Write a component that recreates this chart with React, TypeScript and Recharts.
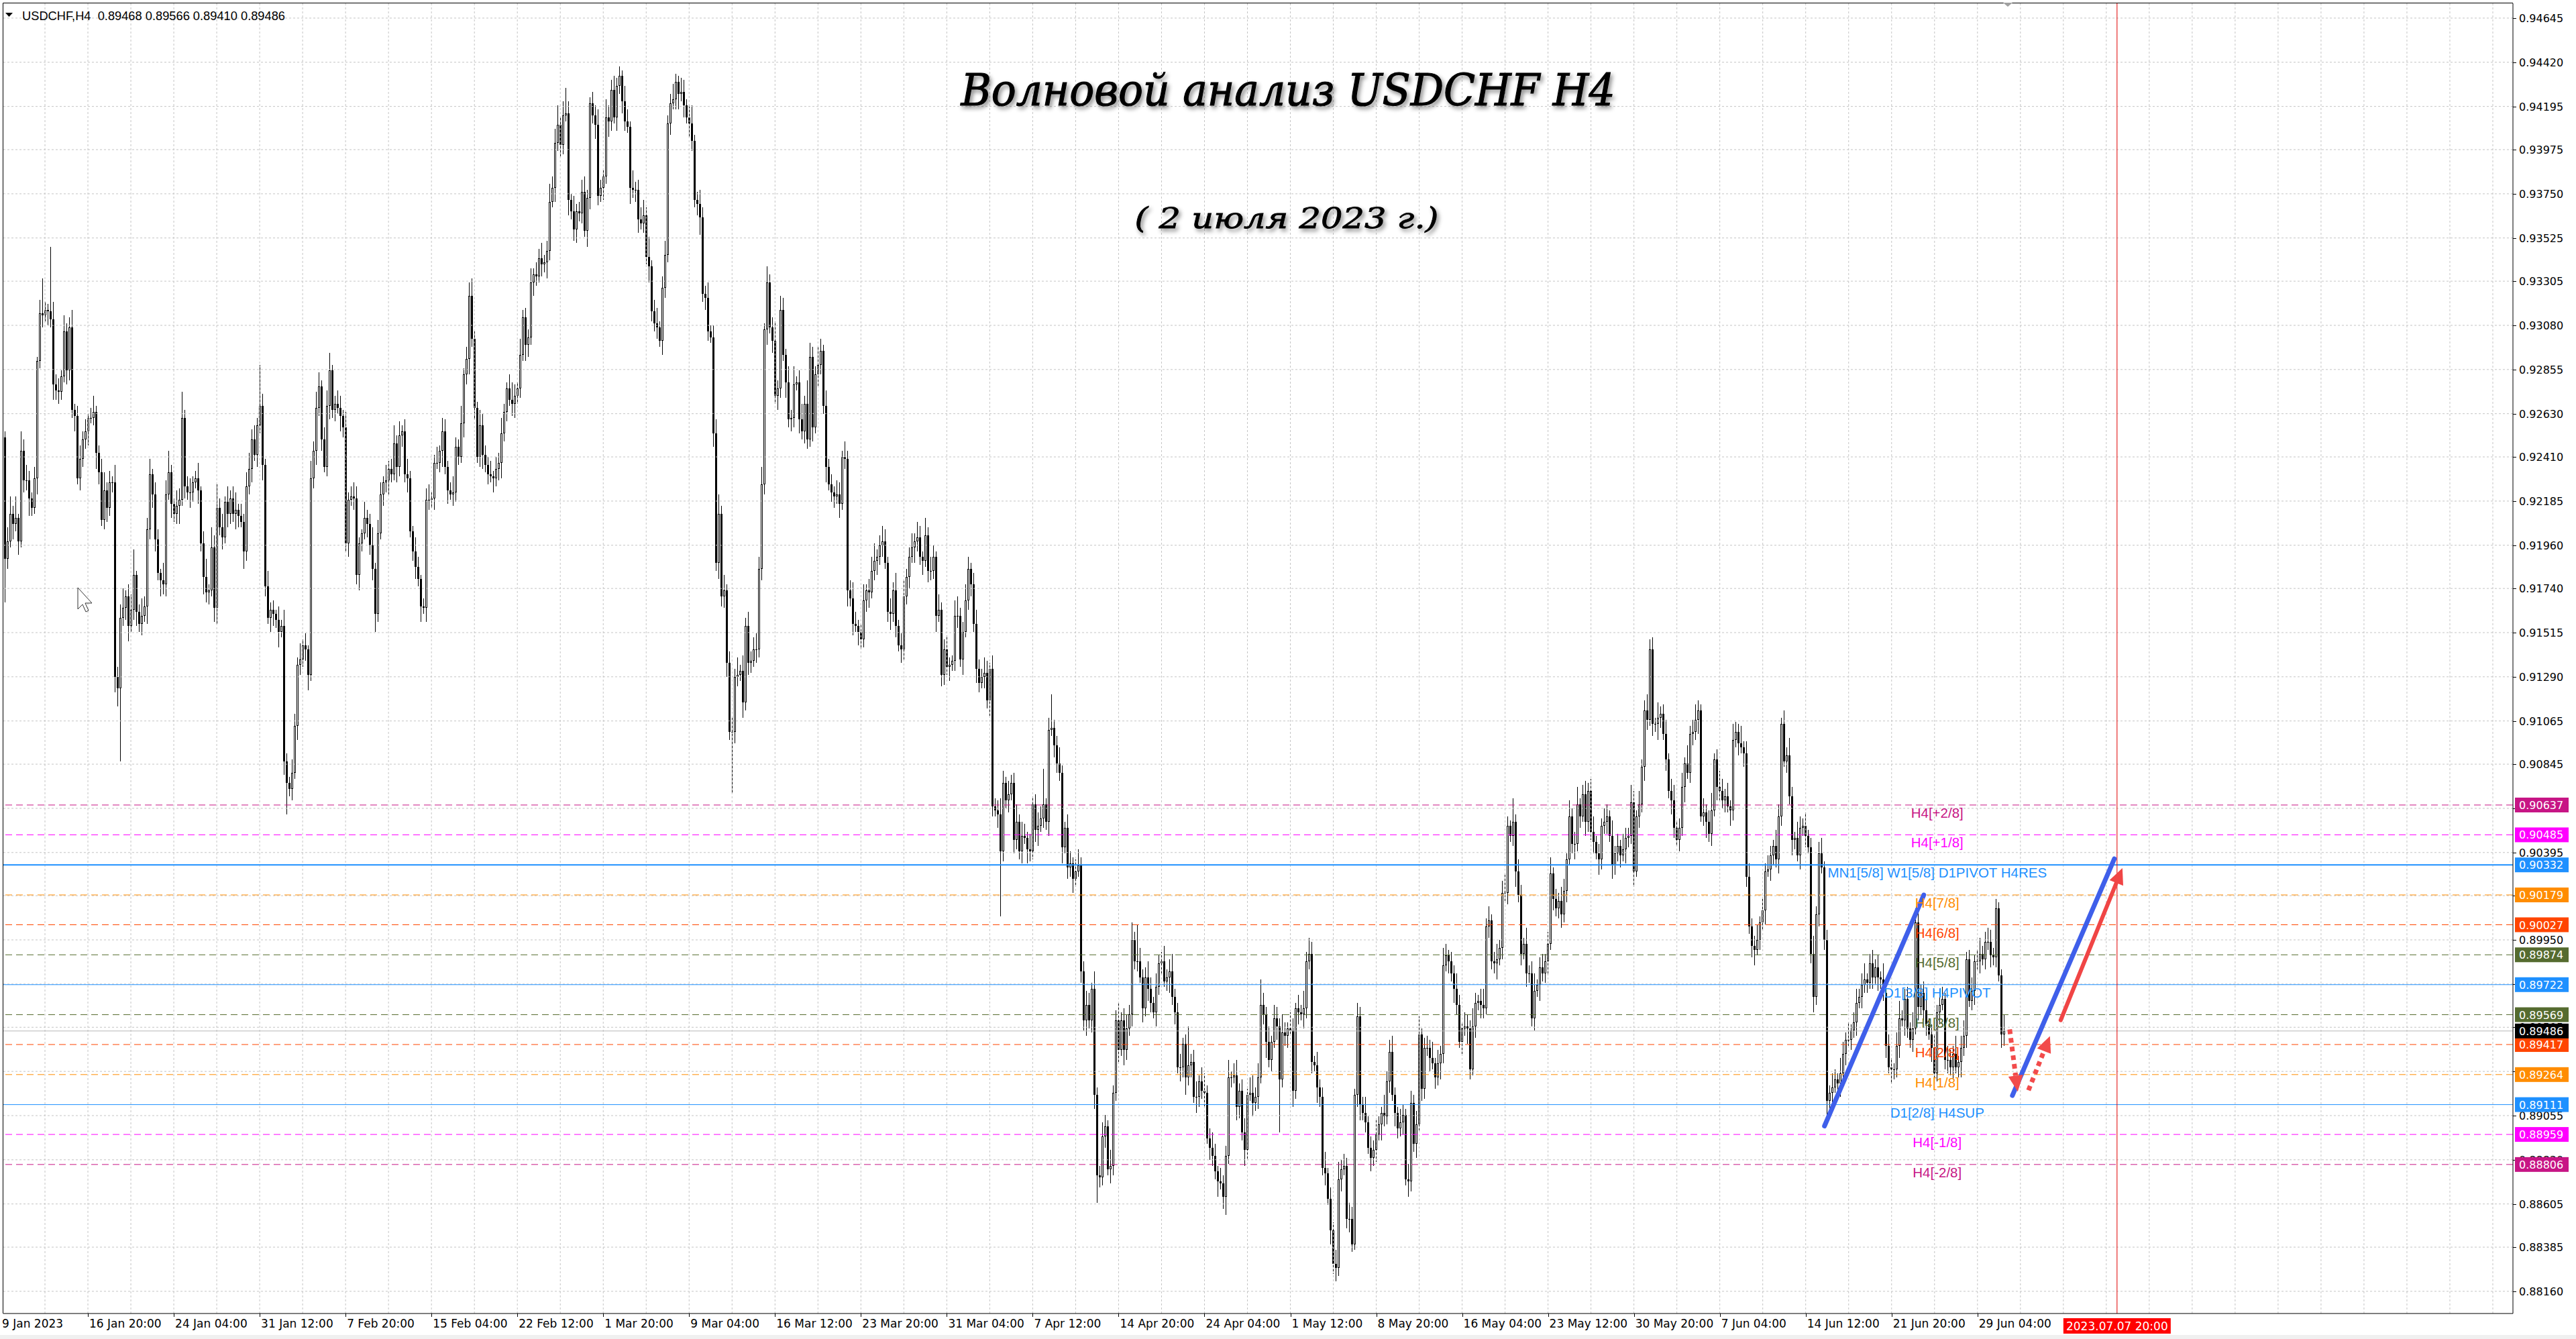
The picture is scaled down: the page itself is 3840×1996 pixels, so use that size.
import React from 'react';
import { ComposedChart, Bar, XAxis, YAxis, ReferenceLine, ReferenceDot } from 'recharts';

const W = 3840;
const H = 1996;

// USDCHF H4, prices in pips (0.0001). Open of each bar = previous close.
const firstOpen = 9251;
const closePips = [
  9189,9198,9212,9207,9210,9198,9244,9229,9229,9220,9215,9230,9290,9314,9313,9316,9315,9311,9278,9275,
  9274,9282,9305,9285,9307,9265,9262,9230,9240,9250,9254,9261,9261,9264,9243,9233,9209,9224,9215,9228,
  9228,9129,9123,9159,9164,9170,9155,9163,9181,9162,9156,9160,9165,9204,9232,9222,9199,9182,9178,9176,
  9222,9233,9217,9212,9216,9219,9261,9226,9223,9223,9228,9230,9224,9197,9180,9172,9173,9195,9164,9215,
  9205,9200,9218,9212,9220,9212,9214,9211,9208,9193,9226,9235,9250,9242,9257,9267,9237,9175,9159,9163,
  9161,9158,9152,9155,9086,9075,9072,9080,9104,9135,9138,9145,9143,9130,9230,9244,9266,9277,9250,9236,
  9267,9285,9265,9268,9266,9262,9256,9197,9219,9221,9220,9181,9197,9202,9210,9207,9196,9184,9161,9202,
  9222,9228,9229,9235,9232,9248,9236,9252,9254,9232,9230,9203,9193,9185,9179,9165,9164,9219,9219,9220,
  9238,9238,9244,9254,9236,9224,9222,9223,9246,9241,9258,9283,9291,9323,9301,9266,9241,9257,9242,9237,
  9232,9231,9230,9235,9238,9253,9264,9276,9270,9268,9272,9276,9293,9312,9298,9302,9330,9334,9333,9342,
  9339,9340,9346,9371,9378,9401,9410,9400,9415,9416,9372,9366,9357,9366,9365,9376,9356,9373,9421,9415,
  9410,9374,9378,9384,9414,9412,9428,9414,9430,9435,9422,9412,9409,9378,9377,9377,9362,9360,9364,9343,
  9338,9315,9309,9307,9300,9327,9344,9411,9421,9423,9432,9426,9427,9420,9414,9411,9402,9372,9370,9363,
  9324,9322,9305,9302,9253,9187,9212,9170,9173,9136,9101,9101,9129,9130,9132,9116,9155,9136,9137,9143,
  9143,9184,9227,9306,9330,9307,9300,9272,9276,9316,9293,9279,9260,9261,9278,9279,9260,9254,9268,9250,
  9292,9256,9283,9288,9295,9267,9236,9227,9223,9221,9222,9217,9241,9240,9173,9169,9156,9155,9152,9148,
  9168,9173,9172,9183,9188,9190,9196,9198,9187,9162,9161,9173,9155,9145,9143,9170,9180,9190,9195,9198,
  9200,9190,9188,9201,9183,9183,9190,9160,9163,9130,9143,9134,9135,9137,9160,9160,9138,9152,9168,9184,
  9176,9156,9133,9126,9129,9131,9117,9133,9063,9061,9059,9040,9075,9066,9069,9075,9046,9055,9040,9048,
  9047,9041,9040,9064,9051,9053,9057,9064,9055,9102,9103,9094,9085,9080,9042,9052,9032,9034,9026,9030,
  9033,8979,8954,8962,8954,8970,8916,8875,8874,8895,8900,8878,8880,8917,8954,8939,8954,8939,8950,8957,
  8995,8984,8984,8976,8960,8976,8970,8963,8958,8971,8983,8984,8974,8976,8979,8966,8958,8930,8930,8942,
  8925,8931,8933,8915,8915,8923,8918,8917,8894,8889,8885,8877,8872,8871,8864,8885,8925,8925,8926,8910,
  8918,8897,8888,8916,8917,8912,8915,8925,8962,8957,8943,8934,8943,8955,8951,8924,8948,8946,8950,8949,
  8918,8960,8958,8957,8960,8984,8988,8933,8931,8920,8915,8879,8876,8863,8847,8830,8828,8873,8878,8880,
  8853,8853,8840,8916,8956,8911,8907,8902,8889,8884,8888,8896,8901,8907,8905,8923,8938,8916,8907,8899,
  8902,8906,8873,8872,8912,8891,8901,8947,8919,8940,8940,8935,8932,8925,8932,8937,8982,8987,8984,8978,
  8970,8962,8943,8950,8951,8950,8929,8951,8963,8964,8962,8960,9002,9005,8984,8983,8985,8991,9019,9019,
  9053,9048,9055,9030,9018,8988,8993,8978,8978,8955,8969,8972,8981,8978,8984,8993,9029,9016,9011,9015,
  9008,9020,9036,9058,9044,9044,9064,9058,9069,9055,9071,9050,9045,9039,9036,9053,9055,9058,9048,9033,
  9039,9043,9038,9041,9047,9048,9065,9030,9058,9064,9083,9112,9107,9143,9105,9105,9108,9110,9100,9087,
  9071,9066,9052,9046,9052,9073,9085,9080,9100,9101,9107,9112,9058,9060,9055,9049,9061,9087,9073,9071,
  9066,9068,9063,9061,9097,9101,9095,9093,9090,9027,9002,8992,8990,8995,9004,9010,9030,9031,9038,9043,
  9036,9058,9105,9086,9089,9068,9046,9047,9038,9052,9053,9048,9042,8988,8966,9008,9039,9032,8995,8913,
  8917,8920,8924,8922,8927,8937,8944,8944,8949,8953,8963,8966,8972,8975,8973,8983,8976,8981,8976,8975,
  8968,8941,8930,8929,8929,8941,8955,8954,8965,8950,8944,8950,9004,8961,8968,8959,8952,8947,8940,8927,
  8958,8962,8965,8934,8934,8930,8937,8930,8933,8940,8946,8985,8964,8969,8984,8984,8988,8985,8994,8994,
  8987,8986,9011,8977,8947,8948.6,
];
const wickUp = [
  3,7,9,4,11,2,10,6,8,5,3,6,2,7,18,4,3,33,9,5,
  6,3,8,4,5,9,3,5,7,4,6,2,5,8,3,4,7,9,4,6,
  3,9,5,7,10,3,6,8,13,2,4,9,5,6,8,3,6,5,2,9,
  7,11,4,3,8,6,13,4,5,7,3,4,8,2,6,9,3,10,6,12,
  5,7,3,8,4,6,9,3,6,4,7,8,5,7,4,21,6,3,8,4,
  5,2,7,3,8,4,3,7,6,4,8,3,6,2,9,5,8,7,3,6,
  8,9,3,4,7,6,3,8,4,5,7,6,3,2,8,4,5,9,3,7,
  6,3,8,4,5,9,4,7,3,6,8,4,3,7,5,2,4,6,8,3,
  4,8,3,7,6,3,4,8,5,4,9,3,6,7,9,4,3,8,6,5,
  4,7,3,6,5,8,4,3,7,9,6,3,8,4,5,4,7,3,6,5,
  8,4,5,9,6,7,10,4,7,13,6,3,8,4,5,6,8,4,3,6,
  5,8,4,3,9,6,5,7,4,5,3,8,6,3,9,4,5,6,8,4,
  10,3,6,8,3,6,7,4,5,8,4,3,7,6,3,6,9,3,4,7,
  5,4,8,3,6,7,10,4,8,3,6,7,4,9,3,8,4,7,5,6,
  8,6,9,3,8,4,5,10,4,7,6,3,8,4,9,3,6,8,4,12,
  7,5,4,9,6,3,8,4,5,3,7,6,3,8,4,5,8,6,3,4,
  8,3,6,7,9,4,5,8,6,3,7,4,9,3,6,8,4,5,7,4,
  8,6,3,9,4,7,6,3,8,4,5,7,4,3,8,10,4,5,8,6,
  3,6,7,5,4,8,6,3,7,4,5,8,6,3,7,4,5,9,4,7,
  6,3,8,4,5,7,6,18,3,6,17,4,5,8,4,3,7,6,3,6,
  8,4,5,7,6,3,9,4,5,7,6,3,8,4,5,9,4,6,7,5,
  9,4,19,7,4,5,8,6,3,7,4,5,8,4,6,9,4,5,7,3,
  5,20,4,6,8,3,7,9,4,5,8,6,3,7,4,5,9,3,6,8,
  4,6,7,3,8,9,5,7,13,6,4,8,3,7,6,4,9,5,3,8,
  6,3,7,4,9,5,8,6,3,7,4,5,8,3,6,4,7,9,5,6,
  4,8,6,3,7,5,4,8,3,6,5,7,4,3,9,5,6,8,4,3,
  7,5,3,8,6,4,7,9,3,5,6,4,8,3,7,4,9,6,3,5,
  4,8,5,3,7,6,4,9,5,3,6,8,4,7,3,5,8,4,6,9,
  5,3,12,4,6,5,3,8,4,6,9,3,5,7,4,6,8,3,5,4,
  7,6,3,8,4,6,9,3,5,7,4,6,8,3,5,4,7,6,3,8,
  4,6,3,8,5,4,9,6,3,7,4,5,8,5,6,3,8,4,5,7,
  3,6,8,4,5,7,3,9,4,6,8,5,3,7,4,6,9,3,5,8,
  6,4,7,3,8,5,4,9,3,6,7,4,5,8,3,6,4,7,5,3,
  8,6,3,7,4,9,5,3,8,6,4,7,3,5,9,4,6,8,3,5,
  4,7,5,3,8,6,4,9,3,5,7,4,6,8,3,5,7,4,6,3,
  8,4,6,5,3,7,9,4,5,6,3,8,7,5,4,6,9,3,5,7,
  4,8,6,3,7,5,4,9,3,6,8,4,5,7,3,6,8,4,5,7,
  6,4,5,3,3,8,
];
const wickDown = [
  22,5,3,8,4,7,3,6,5,9,4,3,8,4,6,3,7,4,8,5,
  6,4,3,7,5,4,8,3,6,4,5,7,3,4,8,6,3,5,7,4,
  5,8,9,37,4,6,8,3,5,7,4,6,3,9,5,7,6,4,8,5,
  6,3,7,4,5,9,3,6,4,8,5,3,7,4,9,5,6,3,7,8,
  4,6,3,7,5,4,8,6,3,9,5,4,7,3,6,4,8,5,3,7,
  6,4,8,3,7,16,4,6,3,7,5,4,6,8,3,5,7,4,6,3,
  5,7,4,6,3,8,5,4,7,3,6,5,8,4,3,7,5,6,9,4,
  3,6,5,7,4,3,8,5,6,4,7,3,5,6,4,8,3,7,5,4,
  6,3,5,8,4,7,3,6,5,4,3,7,5,8,4,6,3,5,7,4,
  5,3,7,4,6,8,4,5,3,6,7,4,5,3,8,6,4,7,5,3,
  6,4,8,5,3,7,4,6,5,3,8,4,6,7,4,5,3,8,6,4,
  7,5,3,6,4,8,5,3,7,4,6,5,3,8,4,6,7,3,5,4,
  8,5,4,6,3,7,5,4,6,3,5,8,4,6,3,7,5,4,6,9,
  4,6,5,3,7,4,8,5,6,7,4,31,6,5,3,8,4,6,5,3,
  7,4,6,5,8,3,6,4,7,5,3,8,4,6,5,3,7,4,6,5,
  4,7,3,6,5,4,8,3,5,6,4,7,3,5,8,4,6,3,7,5,
  4,6,8,3,5,7,4,6,3,5,8,4,6,3,7,5,4,6,3,8,
  5,4,7,3,6,5,4,8,3,6,5,4,7,3,5,6,4,8,3,5,
  6,4,7,5,3,6,4,8,5,3,7,33,5,4,6,3,7,5,4,6,
  3,7,5,4,6,8,3,5,4,7,3,6,5,4,8,3,6,5,7,4,
  3,6,5,8,4,6,7,14,5,4,6,3,7,5,4,6,3,8,5,4,
  6,4,5,3,7,4,6,5,3,7,4,6,3,5,8,4,6,3,7,5,
  9,4,6,3,8,5,4,7,3,6,5,4,8,3,6,9,4,5,3,7,
  6,4,8,5,3,7,4,6,3,5,8,4,6,3,7,27,4,5,6,3,
  8,4,6,3,7,5,4,6,3,8,5,4,6,3,7,5,7,4,6,3,
  5,7,4,3,6,8,4,5,3,7,4,6,3,8,5,4,6,3,7,5,
  4,6,3,8,5,4,7,3,6,5,4,7,3,6,4,8,5,3,6,4,
  7,5,3,6,4,8,5,3,6,4,7,5,3,6,4,5,8,3,6,4,
  6,3,5,8,4,6,3,7,5,4,6,3,8,4,5,7,3,6,4,5,
  7,4,6,3,5,8,4,6,3,7,5,4,6,3,8,5,4,6,3,7,
  5,4,6,3,7,5,4,8,3,6,4,7,5,3,6,4,8,5,3,6,
  4,7,5,3,6,4,8,3,5,6,4,7,3,5,8,4,6,3,7,5,
  4,6,3,8,5,4,6,3,7,5,4,6,8,3,5,4,7,3,6,5,
  4,7,5,3,6,4,8,5,3,7,4,6,3,5,8,4,6,3,5,10,
  4,6,3,5,7,4,6,3,5,4,7,3,6,4,5,3,6,4,7,5,
  4,6,3,7,5,4,6,3,8,5,4,6,3,7,4,5,6,3,7,5,
  4,6,3,5,7,4,6,3,5,8,4,6,3,5,7,4,6,3,5,4,
  6,4,5,3,7,6,
];

const totalSlots = 935; // bars plus the empty shift area on the right
const timeLabels = [
  '9 Jan 2023', '16 Jan 20:00', '24 Jan 04:00', '31 Jan 12:00', '7 Feb 20:00', '15 Feb 04:00',
  '22 Feb 12:00', '1 Mar 20:00', '9 Mar 04:00', '16 Mar 12:00', '23 Mar 20:00', '31 Mar 04:00',
  '7 Apr 12:00', '14 Apr 20:00', '24 Apr 04:00', '1 May 12:00', '8 May 20:00', '16 May 04:00',
  '23 May 12:00', '30 May 20:00', '7 Jun 04:00', '14 Jun 12:00', '21 Jun 20:00', '29 Jun 04:00',
];
const timeLabelBars = [0, 31, 63, 95, 127, 159, 191, 223, 255, 287, 319, 351, 383, 415, 447, 479, 511, 543, 575, 607, 639, 671, 703, 735];
const futureBar = 787;
const futureLabel = '2023.07.07 20:00';

const priceTicks = [
  0.94645, 0.9442, 0.94195, 0.93975, 0.9375, 0.93525, 0.93305, 0.9308, 0.92855, 0.9263,
  0.9241, 0.92185, 0.9196, 0.9174, 0.91515, 0.9129, 0.91065, 0.90845, 0.9062, 0.90395,
  0.90175, 0.8995, 0.89725, 0.89505, 0.8928, 0.89055, 0.8883, 0.88605, 0.88385, 0.8816,
];
const levelPrices = [0.90637, 0.90485, 0.90332, 0.90179, 0.90027, 0.89874, 0.89722, 0.89569, 0.89417, 0.89264, 0.89111, 0.88959, 0.88806];
const levelNames = ['H4[+2/8]', 'H4[+1/8]', 'MN1[5/8] W1[5/8] D1PIVOT H4RES', 'H4[7/8]', 'H4[6/8]', 'H4[5/8]', 'D1[3/8] H4PIVOT', 'H4[3/8]', 'H4[2/8]', 'H4[1/8]', 'D1[2/8] H4SUP', 'H4[-1/8]', 'H4[-2/8]'];
const levelColors = ['#C71585', '#FF00FF', '#1E90FF', '#FF8C00', '#FF4500', '#556B2F', '#1E90FF', '#556B2F', '#FF4500', '#FF8C00', '#1E90FF', '#FF00FF', '#C71585'];
const levelSolid = [false, false, true, false, false, false, true, false, false, false, true, false, false];
const levelLabelBar = 720;
const lastPrice = 0.89486;

// drawn analysis: [barFrom, priceFrom, barTo, priceTo]
const blueLines = [
  [678, 0.89002, 715, 0.90179],
  [748, 0.89157, 786, 0.90363],
];
const redArrow = [766, 0.89541, 789, 0.90316];
const redDotted = [
  [747, 0.89494, 750, 0.89177],
  [754, 0.89184, 762, 0.8946],
];

const gridBars = Array.from({ length: 58 }, (_, k) => 15 + 16 * k);

const data = Array.from({ length: totalSlots }, (_, i) => {
  if (i >= closePips.length) return { i, range: null };
  const o = (i === 0 ? firstOpen : closePips[i - 1]) / 10000;
  const c = closePips[i] / 10000;
  const h = Math.max(o, c) + wickUp[i] / 10000;
  const l = Math.min(o, c) - wickDown[i] / 10000;
  return { i, o, c, h, l, range: [l, h] };
});

const AXIS_FONT = '"DejaVu Sans", Verdana, sans-serif';
const LABEL_FONT = '"Liberation Sans", Arial, sans-serif';

function Candle(props: any) {
  const { x, y, width, height, payload } = props;
  if (!payload || payload.range == null || height == null) return null;
  const { o, c, h, l } = payload;
  const span = h - l || 1e-9;
  const py = (v: number) => y + ((h - v) / span) * height;
  const cx = Math.floor(x + width / 2);
  const top = Math.round(py(Math.max(o, c)));
  const bot = Math.round(py(Math.min(o, c)));
  const bull = c >= o;
  let body;
  if (bot - top < 2) body = <rect x={cx - 1} y={top} width={3} height={1} fill="#000" />;
  else if (bull) body = <rect x={cx - 0.5} y={top + 0.5} width={2} height={bot - top - 1} fill="#fff" stroke="#000" strokeWidth={1} />;
  else body = <rect x={cx - 1} y={top} width={3} height={bot - top} fill="#000" />;
  return (
    <g shapeRendering="crispEdges">
      <line x1={cx + 0.5} x2={cx + 0.5} y1={Math.round(y)} y2={Math.round(y + height)} stroke="#000" strokeWidth={1} />
      {body}
    </g>
  );
}

function PriceTick(props: any) {
  const { x, y, payload } = props;
  const v = payload.value;
  const li = levelPrices.indexOf(v);
  if (li >= 0 || v === lastPrice) {
    const fill = li >= 0 ? levelColors[li] : '#000';
    return (
      <g>
        <rect x={x + 3} y={y - 11} width={80} height={22} fill={fill} />
        <text x={x + 9} y={y + 6} fontFamily={AXIS_FONT} fontSize={16} fill="#fff">{v.toFixed(5)}</text>
      </g>
    );
  }
  return (
    <g>
      <line x1={x} x2={x + 5} y1={y + 0.5} y2={y + 0.5} stroke="#000" shapeRendering="crispEdges" />
      <text x={x + 9} y={y + 6} fontFamily={AXIS_FONT} fontSize={16} fill="#000">{v.toFixed(5)}</text>
    </g>
  );
}

function TimeTick(props: any) {
  const { x, y, payload } = props;
  const bar = payload.value;
  if (bar === futureBar) {
    return (
      <g>
        <rect x={x - 80} y={y + 7} width={160} height={23} fill="#FF0000" />
        <text x={x} y={y + 25} textAnchor="middle" fontFamily={AXIS_FONT} fontSize={17} fill="#fff">{futureLabel}</text>
      </g>
    );
  }
  const k = timeLabelBars.indexOf(bar);
  return (
    <g>
      {k > 0 && <line x1={x + 0.5} x2={x + 0.5} y1={y} y2={y + 5} stroke="#000" shapeRendering="crispEdges" />}
      <text x={k === 0 ? x - 4 : x + 2} y={y + 21} fontFamily={AXIS_FONT} fontSize={17} fill="#000">{timeLabels[k]}</text>
    </g>
  );
}

function arrowShape(color: string, dashed: boolean, withHead: boolean, width: number) {
  return (p: any) => {
    const { x1, y1, x2, y2 } = p;
    if ([x1, y1, x2, y2].some((n) => n == null || isNaN(n))) return null;
    const dx = x2 - x1;
    const dy = y2 - y1;
    const len = Math.sqrt(dx * dx + dy * dy) || 1;
    const ux = dx / len;
    const uy = dy / len;
    const headLen = withHead ? 24 : 0;
    const bx = x2 - ux * headLen;
    const by = y2 - uy * headLen;
    return (
      <g>
        <line x1={x1} y1={y1} x2={bx} y2={by} stroke={color} strokeWidth={width}
          strokeLinecap={dashed ? 'butt' : 'round'} strokeDasharray={dashed ? '7 6' : undefined} />
        {withHead && (
          <polygon
            points={`${x2},${y2} ${bx - uy * 11},${by + ux * 11} ${bx + uy * 11},${by - ux * 11}`}
            fill={color}
          />
        )}
      </g>
    );
  };
}

function LevelLabel(idx: number) {
  return (p: any) => (
    <text x={p.cx} y={p.cy + 19} textAnchor="middle" fontFamily={LABEL_FONT} fontSize={20.5} fill={levelColors[idx]}>
      {levelNames[idx]}
    </text>
  );
}

export default function App() {
  const yTicks = [...priceTicks, ...levelPrices, lastPrice];
  return (
    <div style={{ position: 'absolute', left: 0, top: 0, width: W, height: H, background: '#fff', overflow: 'hidden' }}>
      <ComposedChart
        width={W}
        height={H}
        data={data}
        margin={{ top: 5, left: 5, right: 0, bottom: 0 }}
        barCategoryGap={0}
        barGap={0}
      >
        <XAxis
          dataKey="i"
          type="category"
          ticks={[...timeLabelBars, futureBar]}
          interval={0}
          height={38}
          tickSize={0}
          tickMargin={0}
          tickLine={false}
          axisLine={{ stroke: '#000', strokeWidth: 1 }}
          tick={<TimeTick />}
        />
        <YAxis
          orientation="right"
          type="number"
          domain={[0.88047, 0.9472]}
          allowDataOverflow
          ticks={yTicks}
          interval={0}
          width={94}
          tickSize={0}
          tickMargin={0}
          tickLine={false}
          axisLine={{ stroke: '#000', strokeWidth: 1 }}
          tick={<PriceTick />}
        />
        {gridBars.map((b) => (
          <ReferenceLine key={'gx' + b} x={b} stroke="#c4c4c4" strokeDasharray="3 3" strokeWidth={1} ifOverflow="visible" />
        ))}
        {priceTicks.map((v) => (
          <ReferenceLine key={'gy' + v} y={v} stroke="#c4c4c4" strokeDasharray="3 3" strokeWidth={1} />
        ))}
        {levelPrices.map((v, k) => (
          <ReferenceLine
            key={'lv' + v}
            y={v}
            stroke={levelColors[k]}
            strokeWidth={k === 2 ? 2 : 1}
            strokeDasharray={levelSolid[k] ? undefined : '10 6'}
          />
        ))}
        <ReferenceLine y={lastPrice} stroke="#b8b8b8" strokeWidth={1} />
        <ReferenceLine x={futureBar} stroke="#E00000" strokeWidth={1} />
        <Bar dataKey="range" shape={<Candle />} isAnimationActive={false} />
        {levelPrices.map((v, k) => (
          <ReferenceDot key={'ll' + v} x={levelLabelBar} y={v} r={0} ifOverflow="visible" shape={LevelLabel(k)} />
        ))}
        {blueLines.map((s, k) => (
          <ReferenceLine
            key={'bl' + k}
            segment={[{ x: s[0], y: s[1] }, { x: s[2], y: s[3] }]}
            ifOverflow="visible"
            shape={arrowShape('#3F5FEA', false, false, 7)}
          />
        ))}
        <ReferenceLine
          segment={[{ x: redArrow[0], y: redArrow[1] }, { x: redArrow[2], y: redArrow[3] }]}
          ifOverflow="visible"
          shape={arrowShape('#F04545', false, true, 6)}
        />
        {redDotted.map((s, k) => (
          <ReferenceLine
            key={'rd' + k}
            segment={[{ x: s[0], y: s[1] }, { x: s[2], y: s[3] }]}
            ifOverflow="visible"
            shape={arrowShape('#F24B4B', true, true, 7)}
          />
        ))}
      </ComposedChart>
      <svg width={W} height={H} style={{ position: 'absolute', left: 0, top: 0, pointerEvents: 'none' }}>
        <defs>
          <filter id="soft" x="-10%" y="-30%" width="120%" height="160%">
            <feDropShadow dx="3" dy="4" stdDeviation="3" floodColor="#000" floodOpacity="0.45" />
          </filter>
        </defs>
        <rect x={0} y={1990} width={W} height={6} fill="#f0f0f0" />
        <line x1={4.5} x2={3746} y1={4.5} y2={4.5} stroke="#000" />
        <line x1={4.5} x2={4.5} y1={4.5} y2={1958} stroke="#000" />
        <polygon points="8,19 19,19 13.5,25" fill="#000" />
        <text x={33} y={30} fontFamily={LABEL_FONT} fontSize={18} textLength={392} lengthAdjust="spacingAndGlyphs" style={{ whiteSpace: 'pre' }}>
          USDCHF,H4  0.89468 0.89566 0.89410 0.89486
        </text>
        <text x={1920} y={157} textAnchor="middle" fontFamily='"DejaVu Serif", serif' fontStyle="italic" fontSize={66}
          textLength={975} lengthAdjust="spacingAndGlyphs" filter="url(#soft)" fill="#000" stroke="#000" strokeWidth={1.2}>
          Волновой анализ USDCHF H4
        </text>
        <text x={1918} y={340} textAnchor="middle" fontFamily='"DejaVu Serif", serif' fontStyle="italic" fontSize={42}
          textLength={453} lengthAdjust="spacingAndGlyphs" filter="url(#soft)" fill="#000" stroke="#000" strokeWidth={0.8}>
          ( 2 июля 2023 г.)
        </text>
        <polygon points="116,876 116,908 123,901 128,912 132,910 127,899 137,899" fill="#fff" stroke="#333" strokeWidth={1} />
        <polygon points="2986,4 3000,4 2993,10" fill="#a0a0a0" />
      </svg>
    </div>
  );
}
